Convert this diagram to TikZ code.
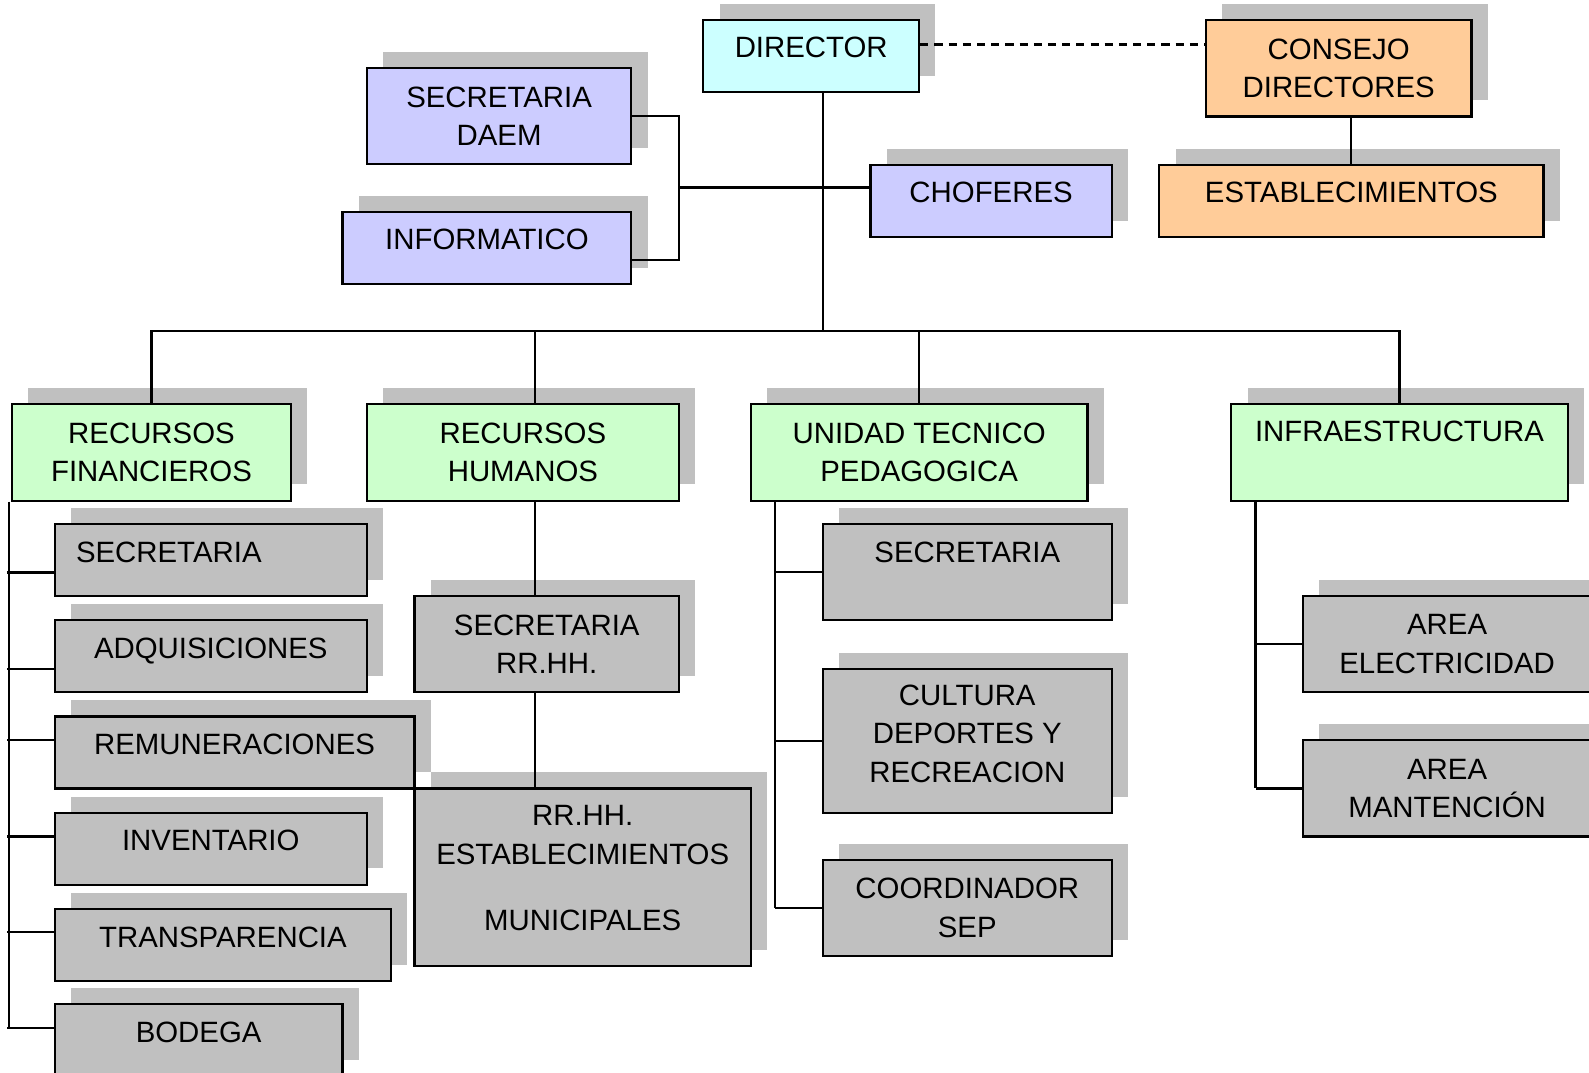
\documentclass[tikz,border=0pt]{standalone}
\usepackage{fontspec}
\setmainfont{Liberation Sans}
\usetikzlibrary{shadows}
\definecolor{shadegray}{HTML}{C0C0C0}
\definecolor{boxblue}{HTML}{CCCCFF}
\definecolor{boxcyan}{HTML}{CCFFFF}
\definecolor{boxorange}{HTML}{FFCC99}
\definecolor{boxgreen}{HTML}{CCFFCC}
\definecolor{boxgray}{HTML}{C0C0C0}

\begin{document}
\begin{tikzpicture}[x=0.5pt, y=-0.5pt,
    unit/.style={draw, line width=1.1pt, align=center, inner sep=0pt,
      font=\fontsize{14.5pt}{19pt}\selectfont,
      drop shadow={shadow xshift=8pt, shadow yshift=8pt, fill=shadegray, opacity=1}},
    boxsize/.style 2 args={minimum width=#1*0.5pt, minimum height=#2*0.5pt},
    link/.style={line width=1.1pt},
    dashlink/.style={line width=1.1pt, dash pattern=on 4pt off 3pt}]
    \path[use as bounding box, fill=white] (0,0) rectangle (1568,1058);

    \node[unit, fill=boxcyan, boxsize={213}{71}, text depth=8.5pt] (dir) at (800.5,55.5) {DIRECTOR};
    \node[unit, fill=boxorange, boxsize={262}{95}] (cons) at (1321,67.5) {CONSEJO\\DIRECTORES};
    \node[unit, fill=boxorange, boxsize={379}{71}, text depth=9pt] (estab) at (1333.5,198.5) {ESTABLECIMIENTOS};
    \node[unit, fill=boxblue, boxsize={261}{95}] (daem) at (492.5,114.5) {SECRETARIA\\DAEM};
    \node[unit, fill=boxblue, boxsize={285}{71}, text depth=8.5pt] (info) at (480.5,244.5) {INFORMATICO};
    \node[unit, fill=boxblue, boxsize={238}{71}, text depth=9pt] (chof) at (978,198.5) {CHOFERES};

    \node[unit, fill=boxgreen, boxsize={275}{95}] (rf) at (149.5,446.5) {RECURSOS\\FINANCIEROS};
    \node[unit, fill=boxgreen, boxsize={308}{95}] (rh) at (516,446.5) {RECURSOS\\HUMANOS};
    \node[unit, fill=boxgreen, boxsize={332}{95}] (utp) at (907,446.5) {UNIDAD TECNICO\\PEDAGOGICA};
    \node[unit, fill=boxgreen, boxsize={332}{95}, text depth=20.5pt] (infra) at (1381,446.5) {INFRAESTRUCTURA};

    \node[unit, fill=boxgray, boxsize={308}{71}, text depth=8pt, align=left,
      text width=133pt, inner xsep=10.5pt] (fsec) at (208,552.5) {SECRETARIA};
    \node[unit, fill=boxgray, boxsize={308}{71}, text depth=8pt] (fadq) at (208,647.5) {ADQUISICIONES};
    \node[unit, fill=boxgray, boxsize={355}{71}, text depth=8pt] (frem) at (231.5,742.5) {REMUNERACIONES};
    \node[unit, fill=boxgray, boxsize={308}{71}, text depth=8pt] (finv) at (208,837.5) {INVENTARIO};
    \node[unit, fill=boxgray, boxsize={332}{71}, text depth=8pt] (ftra) at (220,932.5) {TRANSPARENCIA};
    \node[unit, fill=boxgray, boxsize={284}{71}, text depth=8pt] (fbod) at (196,1026.5) {BODEGA};

    \node[unit, fill=boxgray, boxsize={261}{95}] (hsec) at (539.5,635.5) {SECRETARIA\\RR.HH.};
    \node[unit, fill=boxgray, boxsize={332}{175}, text depth=9pt] (hest) at (575,865.5) {RR.HH.\\ESTABLECIMIENTOS\\[13.5pt]MUNICIPALES};

    \node[unit, fill=boxgray, boxsize={285}{95}, text depth=19.5pt] (usec) at (954.5,564.5) {SECRETARIA};
    \node[unit, fill=boxgray, boxsize={285}{142}, text depth=7pt] (ucul) at (954.5,731) {CULTURA\\DEPORTES Y\\RECREACION};
    \node[unit, fill=boxgray, boxsize={285}{95}] (ucoo) at (954.5,896) {COORDINADOR\\SEP};

    \node[unit, fill=boxgray, boxsize={284}{95}] (iele) at (1428,635.5) {AREA\\ELECTRICIDAD};
    \node[unit, fill=boxgray, boxsize={284}{95}] (iman) at (1428,778) {AREA\\MANTENCI\'ON};

    % top level
    \draw[dashlink] ([yshift=5.75pt]dir.east) coordinate (dd) -- (dd -| cons.west);
    \draw[link] (estab.north) -- (estab.north |- cons.south);
    \coordinate (jx) at (670,185);
    \draw[link] (daem.east) -| (jx) |- ([yshift=-6pt]info.east);
    \draw[link] (jx) -- (chof.west |- jx);
    \coordinate (bus) at (812,327);
    \draw[link] (dir.south -| bus) -- (bus);
    \draw[link] (rf.north) |- (bus) -| (infra.north);
    \draw[link] (utp.north) -- (utp.north |- bus);
    \coordinate (rhx) at (528,327);
    \draw[link] (rhx) -- (rhx |- rh.north);

    % recursos humanos
    \draw[link] (rh.south -| rhx) -- (hsec.north -| rhx);
    \draw[link] (hsec.south -| rhx) -- (hest.north -| rhx);

    % recursos financieros
    \coordinate (fx) at (9,494);
    \draw[link] (rf.south -| fx) -- ([yshift=6pt]fbod.west -| fx);
    \foreach \n/\d in {fsec/-6.25pt, fadq/-6.25pt, frem/6pt, finv/6pt, ftra/6.25pt, fbod/6pt}
    {   \draw[link] ([yshift=\d]\n.west) -- ([yshift=\d, xshift=-1pt]\n.west -| fx);
    }

    % unidad tecnico pedagogica
    \coordinate (ux) at (765,494);
    \draw[link] (utp.south -| ux) -- (ucoo.west -| ux);
    \foreach \n in {usec,ucul,ucoo}
    {   \draw[link] (\n.west) -- (\n.west -| ux);
    }

    % infraestructura
    \coordinate (ix) at (1239,494);
    \draw[link] (infra.south -| ix) -- (iman.west -| ix);
    \foreach \n in {iele,iman}
    {   \draw[link] (\n.west) -- (\n.west -| ix);
    }
\end{tikzpicture}
\end{document}
